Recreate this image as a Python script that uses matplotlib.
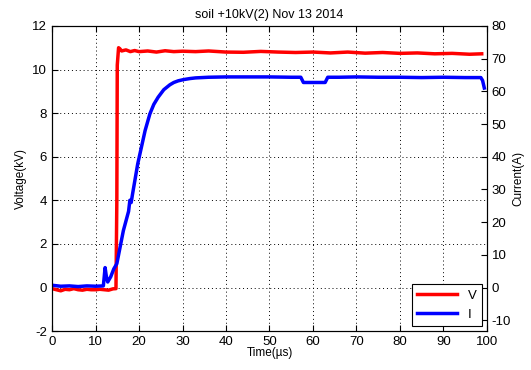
"""
soil +10kV(2) Nov 13 2014 - voltage and current traces
"""
import matplotlib
matplotlib.use("Agg")
import matplotlib.pyplot as plt
from matplotlib.lines import Line2D

plt.rcParams["font.family"] = ["Liberation Sans", "DejaVu Sans"]
plt.rcParams["axes.unicode_minus"] = False

# voltage trace (kV) vs time (us)
red_t = [0, 1, 2, 3, 4, 5, 6, 7, 8, 9, 10, 11, 12, 13, 14, 14.7, 14.9, 15.0,
         15.3, 15.6, 16, 17, 18, 19, 20, 22, 24, 26, 28, 30, 33, 36, 40, 44,
         48, 52, 56, 60, 64, 68, 72, 76, 80, 84, 88, 92, 96, 98.8]
red_v = [-0.05, -0.1, -0.15, -0.08, -0.1, -0.05, -0.1, -0.12, -0.08, -0.1,
         -0.1, -0.08, -0.1, -0.12, -0.06, -0.05, 4.0, 10.2, 11.0, 10.95, 10.85,
         10.9, 10.82, 10.87, 10.82, 10.85, 10.8, 10.86, 10.82, 10.84, 10.82,
         10.85, 10.8, 10.79, 10.83, 10.8, 10.78, 10.8, 10.76, 10.8, 10.75,
         10.78, 10.74, 10.76, 10.72, 10.74, 10.7, 10.72]

# current trace (A) vs time (us)
blue_t = [0, 2, 4, 6, 8, 10, 11.8, 12.2, 12.5, 12.8, 13.5, 14.2, 14.9, 16.4,
          17.6, 17.9, 18.2, 18.5, 19.7, 21.4, 22.5, 23.4, 24.4, 25.7, 27.1,
          28.0, 29.0, 30.3, 31.7, 33.0, 36, 40, 45, 50, 55, 57.2, 57.8, 62.8,
          63.4, 66, 70, 75, 80, 85, 90, 95, 98.6, 99.0, 99.4]
blue_a = [0.7, 0.4, 0.5, 0.3, 0.5, 0.4, 0.5, 6.1, 3.3, 1.7, 3.3, 5.7, 7.3,
          17.4, 23.3, 26.7, 26.0, 28.5, 37.8, 48.0, 53.1, 56.0, 58.2, 60.5,
          62.0, 62.7, 63.2, 63.6, 63.9, 64.1, 64.3, 64.4, 64.4, 64.4, 64.3,
          64.3, 62.7, 62.7, 64.3, 64.3, 64.4, 64.3, 64.3, 64.2, 64.3, 64.2,
          64.2, 63.3, 61.0]

fig = plt.figure(figsize=(5.31, 3.70), dpi=100)
ax = fig.add_axes([0.098, 0.105, 0.819, 0.825])
ax2 = ax.twinx()

ax.plot(red_t, red_v, color="#ff0000", lw=2.5)
ax2.plot(blue_t, blue_a, color="#0000ff", lw=2.5)

ax.set_xlim(0, 100)
ax.set_ylim(-2, 12)
ax.set_xticks(range(0, 101, 10))
ax.set_yticks(range(-2, 13, 2))
ax2.set_ylim(-2 * 80 / 12, 80)
ax2.set_yticks(range(-10, 81, 10))

ax.grid(True, color="black", linestyle=(0, (1, 3)), linewidth=0.7)
for a in (ax, ax2):
    a.tick_params(direction="in", labelsize=9.5, length=4, width=0.8)
    for s in a.spines.values():
        s.set_linewidth(0.8)
ax.tick_params(top=True)

ax.set_title("soil +10kV(2) Nov 13 2014", fontsize=9, pad=6)
ax.set_xlabel("Time(\u00b5s)", fontsize=8.5, labelpad=-1)
ax.set_ylabel("Voltage(kV)", fontsize=8.5, labelpad=4)
ax2.set_ylabel("Current(A)", fontsize=8.5, labelpad=1)

handles = [Line2D([], [], color="#ff0000", lw=2.5, label="V"),
           Line2D([], [], color="#0000ff", lw=2.5, label="I")]
leg = ax2.legend(handles=handles, loc="lower right", fontsize=9.5,
                 fancybox=False, edgecolor="black", framealpha=1,
                 handlelength=3, borderaxespad=0.4)
leg.get_frame().set_linewidth(0.8)

fig.savefig("out.png", dpi=100)
